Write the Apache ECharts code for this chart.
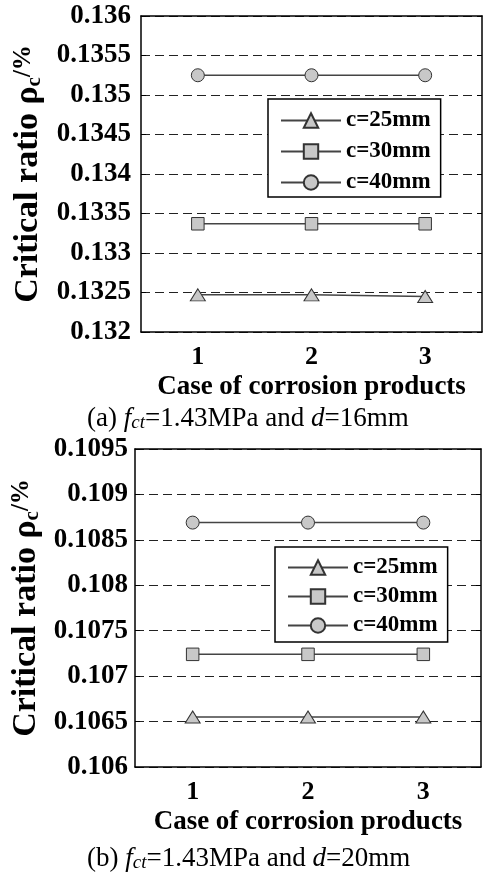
<!DOCTYPE html>
<html>
<head>
<meta charset="utf-8">
<script src="https://cdn.jsdelivr.net/npm/echarts@6/dist/echarts.min.js"></script>
<style>
html,body{margin:0;padding:0;background:#fff;}
#chart{width:483px;height:873px;}
</style>
</head>
<body>
<div id="chart"></div>
<script>
// ---- data ----
var categories = ['1', '2', '3'];
var seriesNames = ['c=25mm', 'c=30mm', 'c=40mm'];
var topC25 = [0.13247, 0.13247, 0.13245];
var topC30 = [0.13337, 0.13337, 0.13337];
var topC40 = [0.13525, 0.13525, 0.13525];
var botC25 = [0.10655, 0.10655, 0.10655];
var botC30 = [0.10724, 0.10724, 0.10724];
var botC40 = [0.10869, 0.10869, 0.10869];
var topYTicks = [0.132, 0.1325, 0.133, 0.1335, 0.134, 0.1345, 0.135, 0.1355, 0.136];
var botYTicks = [0.106, 0.1065, 0.107, 0.1075, 0.108, 0.1085, 0.109, 0.1095];
var yInterval = 0.0005;
var captionTop = '(a) {i|f}{sub|ct}=1.43MPa and {i|d}=16mm';
var captionBot = '(b) {i|f}{sub|ct}=1.43MPa and {i|d}=20mm';
var yTitle = 'Critical ratio ρ{sub|c}{sup|/%}';
var xTitle = 'Case of corrosion products';

var FONT = "'Liberation Serif', 'Times New Roman', serif";
var symbols = ['triangle', 'rect', 'circle'];
var symbolSizes = [[15, 12], 12.5, 13];

function fmt(v) { return String(+v.toFixed(4)); }

function makeAxes(gi, ticks, yGap, labMargin) {
  var xs = [
    {
      gridIndex: gi, type: 'category', data: categories, position: 'bottom',
      boundaryGap: true,
      axisLine: { lineStyle: { color: '#000', width: 1.5 } },
      axisTick: { inside: true, alignWithLabel: true, length: 5, lineStyle: { color: '#000', width: 1 } },
      axisLabel: { color: '#000', fontFamily: FONT, fontWeight: 'bold', fontSize: 26, margin: 12 },
      splitLine: { show: false },
      name: xTitle, nameLocation: 'middle', nameGap: 42,
      nameTextStyle: { color: '#000', fontFamily: FONT, fontWeight: 'bold', fontSize: 27 }
    },
    {
      gridIndex: gi, type: 'category', data: categories, position: 'top',
      boundaryGap: true,
      axisLine: { lineStyle: { color: '#000', width: 1.5 } },
      axisTick: { inside: true, alignWithLabel: true, length: 5, lineStyle: { color: '#000', width: 1 } },
      axisLabel: { show: false },
      splitLine: { show: false }
    }
  ];
  var ys = [
    {
      gridIndex: gi, type: 'value', position: 'left',
      min: ticks[0], max: ticks[ticks.length - 1], interval: yInterval,
      axisLine: { show: true, lineStyle: { color: '#000', width: 1.5 } },
      axisTick: { show: true, inside: true, length: 5, lineStyle: { color: '#000', width: 1 } },
      axisLabel: { color: '#000', fontFamily: FONT, fontWeight: 'bold', fontSize: 27, margin: labMargin, formatter: fmt },
      splitLine: { show: true, lineStyle: { color: '#222', width: 1, type: [9, 5] } },
      name: yTitle, nameLocation: 'middle', nameRotate: 90, nameGap: yGap,
      nameTextStyle: {
        color: '#000', fontFamily: FONT, fontWeight: 'bold', fontSize: 34, lineHeight: 34,
        rich: {
          sub: { fontFamily: FONT, fontWeight: 'bold', fontSize: 21, lineHeight: 10, verticalAlign: 'bottom', color: '#000' },
          sup: { fontFamily: FONT, fontWeight: 'bold', fontSize: 25, lineHeight: 25, verticalAlign: 'top', color: '#000' }
        }
      }
    },
    {
      gridIndex: gi, type: 'value', position: 'right',
      min: ticks[0], max: ticks[ticks.length - 1], interval: yInterval,
      axisLine: { show: true, lineStyle: { color: '#000', width: 1.5 } },
      axisTick: { show: true, inside: true, length: 5, lineStyle: { color: '#000', width: 1 } },
      axisLabel: { show: false },
      splitLine: { show: false }
    }
  ];
  return { xs: xs, ys: ys };
}

var a1 = makeAxes(0, topYTicks, 96, 10);
var a2 = makeAxes(1, botYTicks, 89, 7);

function mkSeries(name, idx, data, axisOffset) {
  return {
    name: name, type: 'line', data: data,
    xAxisIndex: axisOffset, yAxisIndex: axisOffset,
    symbol: symbols[idx], symbolSize: symbolSizes[idx],
    showAllSymbol: true,
    lineStyle: { color: '#444', width: 1.5 },
    itemStyle: { color: '#c8c8c8', borderColor: '#333', borderWidth: 1 },
    z: 3 + idx,
    animation: false
  };
}

var series = [
  mkSeries(seriesNames[0], 0, topC25, 0),
  mkSeries(seriesNames[1], 1, topC30, 0),
  mkSeries(seriesNames[2], 2, topC40, 0),
  mkSeries(seriesNames[0], 0, botC25, 2),
  mkSeries(seriesNames[1], 1, botC30, 2),
  mkSeries(seriesNames[2], 2, botC40, 2)
];

function mkLegend(left, top, pad, gap) {
  return {
    data: seriesNames, orient: 'vertical', left: left, top: top,
    padding: pad, itemGap: gap, itemWidth: 60, itemHeight: 18,
    backgroundColor: '#fff', borderColor: '#000', borderWidth: 1.5,
    selectedMode: false,
    textStyle: { color: '#000', fontFamily: FONT, fontWeight: 'bold', fontSize: 23 }
  };
}

var captionRich = {
  i: { fontFamily: FONT, fontStyle: 'italic', fontSize: 27, fill: '#000' },
  sub: { fontFamily: FONT, fontStyle: 'italic', fontSize: 19, lineHeight: 12, verticalAlign: 'bottom', fill: '#000' }
};

var option = {
  animation: false,
  backgroundColor: '#fff',
  grid: [
    { left: 141, top: 16, width: 341, height: 316, containLabel: false },
    { left: 135, top: 449, width: 346, height: 318, containLabel: false }
  ],
  xAxis: a1.xs.concat(a2.xs),
  yAxis: a1.ys.concat(a2.ys),
  legend: [mkLegend(268, 99, [10, 10, 3, 12], 8), mkLegend(275, 547, [9, 10, 5, 12], 6)],
  series: series,
  graphic: [
    {
      type: 'text', left: 87, top: 405, z: 10,
      style: { text: captionTop, fontFamily: FONT, fontSize: 27, lineHeight: 27, fill: '#000', rich: captionRich }
    },
    {
      type: 'text', left: 87, top: 845, z: 10,
      style: { text: captionBot, fontFamily: FONT, fontSize: 27, lineHeight: 27, fill: '#000', rich: captionRich }
    }
  ]
};

var chart = echarts.init(document.getElementById('chart'), null, { renderer: 'canvas' });
chart.setOption(option);
</script>
</body>
</html>
